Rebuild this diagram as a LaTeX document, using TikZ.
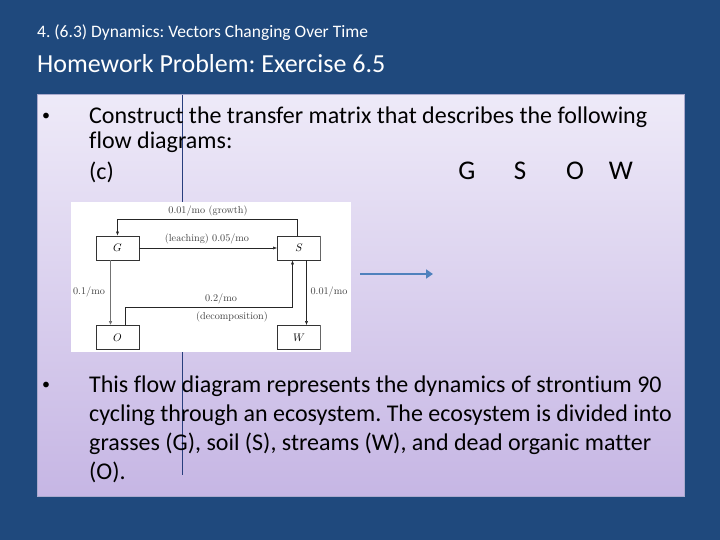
\documentclass[tikz,border=0pt]{standalone}
\usepackage{fontspec}
\setmainfont{Carlito}[Ligatures=NoCommon]
\newfontfamily\slidefont{Carlito}[Ligatures=NoCommon]
\newfontfamily\lmfont{Latin Modern Roman}
\usetikzlibrary{arrows.meta}
\frenchspacing
\definecolor{slidebg}{RGB}{31,73,125}
\definecolor{boxtop}{RGB}{238,234,248}
\definecolor{boxbot}{RGB}{198,182,228}
\definecolor{boxedge}{RGB}{170,170,205}
\definecolor{vline}{RGB}{40,62,125}
\definecolor{arrowblue}{RGB}{79,129,189}
\tikzset{
  slidetext/.style={anchor=base west, inner sep=0pt, font=\slidefont\fontsize{24}{28}\selectfont, text=black},
  bigletter/.style={anchor=base, inner sep=0pt, font=\slidefont\fontsize{27}{30}\selectfont, text=black},
  bulletdot/.style={anchor=base west, inner sep=0pt, font=\slidefont\fontsize{16}{20}\selectfont, text=black},
  flowbox/.style={draw=black!80, line width=0.6pt, minimum width=43pt, minimum height=24pt, inner sep=0pt, font=\fontsize{10.5}{12}\selectfont},
  flowarrow/.style={draw=black!85, line width=0.5pt, -{Latex[length=4pt,width=3pt]}},
  flowlabel/.style={inner sep=0pt, font=\lmfont\fontsize{10.2}{12}\selectfont, text=black!75},
}
\begin{document}
\begin{tikzpicture}[x=1pt,y=-1pt]
\fill[slidebg] (0,0) rectangle (720,540);
\useasboundingbox (0,0) rectangle (720,540);
% content panel
\shade[top color=boxtop, bottom color=boxbot] (37,95) rectangle (684,496);
\draw[boxedge, line width=1pt] (37,95) rectangle (684,496);
\draw[vline, line width=0.9pt] (182,95) -- (182,475);
% titles
\node[anchor=base west, inner sep=0pt, text=white, font=\slidefont\fontsize{17.5}{20}\selectfont] (t1) at (37,37.5) {4. (6.3) Dynamics: Vectors Changing Over Time};
\node[anchor=base west, inner sep=0pt, text=white, font=\slidefont\fontsize{26}{30}\selectfont] (t2) at (37,73) {Homework Problem: Exercise 6.5};
% bullets
\node[bulletdot] (b1) at (42,121) {•};
\node[slidetext] (l1) at (89,124) {Construct the transfer matrix that describes the following};
\node[slidetext] (l2) at (89,149) {flow diagrams:};
\node[slidetext] (l3) at (89,180) {(c)};
\node[bigletter] (mg) at (467,180) {G};
\node[bigletter] (ms) at (520,180) {S};
\node[bigletter] (mo) at (575,180) {O};
\node[bigletter] (mw) at (621,180) {W};
\node[bulletdot] (b2) at (42,389) {•};
\node[slidetext] (m1) at (89,392) {This flow diagram represents the dynamics of strontium 90};
\node[slidetext] (m2) at (89,421) {cycling through an ecosystem. The ecosystem is divided into};
\node[slidetext] (m3) at (89,450) {grasses (G), soil (S), streams (W), and dead organic matter};
\node[slidetext] (m4) at (89,479) {(O).};
% blue arrow
\coordinate (ba1) at (360,274);
\coordinate (ba2) at (433,274);
\draw[arrowblue, line width=2.8pt, -{Triangle[length=7pt,width=9pt]}] (ba1) -- (ba2);
% flow diagram picture
\fill[white] (71,202) rectangle (351,352);
\node[flowbox] (G) at (117.5,248) {$G$};
\node[flowbox] (S) at (299,248) {$S$};
\node[flowbox] (O) at (117.5,337.5) {$O$};
\node[flowbox] (W) at (299,337.5) {$W$};
\draw[black!60, line width=0.8pt] (S.north east) -- (S.south east);
\draw[black!60, line width=0.8pt] (W.north east) -- (W.south east);
% growth
\draw[flowarrow] (S.north -| 297.5,0) |- (117.5,219.5) -- (G.north);
\node[flowlabel] (lg) at (208,211) {0.01/mo (growth)};
% leaching
\draw[flowarrow] (G.east) -- (S.west);
\node[flowlabel] (ll) at (207,238.5) {(leaching) 0.05/mo};
% G to O
\draw[black!55, line width=1.4pt, -{Latex[length=4pt,width=3.5pt]}] (G.south -| 110.5,0) -- (O.north -| 110.5,0);
\node[flowlabel] (l01) at (89,292) {0.1/mo};
% O to S
\draw[flowarrow] (O.north -| 125,0) |- (292.5,307.5) -- (S.south -| 292.5,0);
\node[flowlabel] (l02) at (221,298.5) {0.2/mo};
\node[flowlabel] (ldec) at (232,317) {(decomposition)};
% S to W
\draw[flowarrow] (S.south -| 306.5,0) -- (W.north -| 306.5,0);
\node[flowlabel] (lsw) at (329,292) {0.01/mo};
\end{tikzpicture}
\end{document}
